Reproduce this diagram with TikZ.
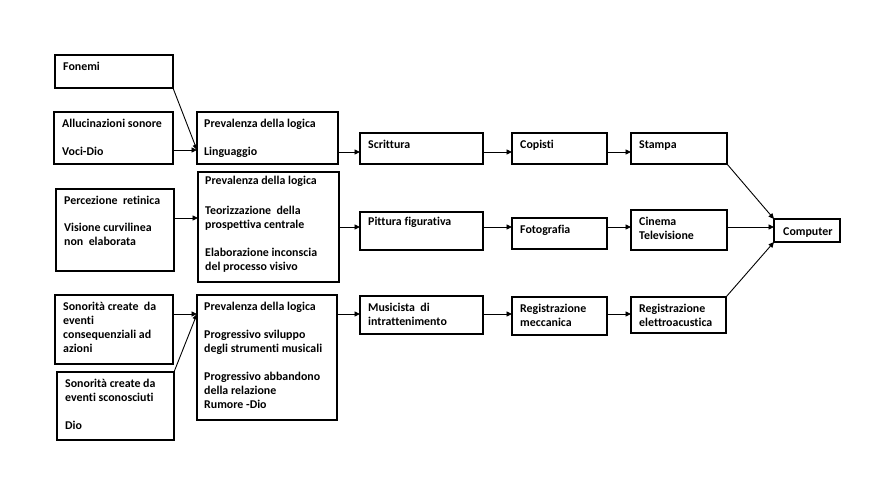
\documentclass[tikz,border=0pt]{standalone}
\usepackage{fontspec}
\setmainfont{Carlito}[Ligatures={NoCommon}]
\usetikzlibrary{arrows.meta,calc}
\tikzset{
  box/.style={draw=black, line width=1.1pt, rectangle, inner sep=0pt, outer sep=0pt},
  lbl/.style={anchor=north west, align=left, inner xsep=8pt, inner ysep=6.5pt,
    font=\fontsize{11.9}{14}\selectfont\bfseries, text=black},
  arr/.style={draw=black, line width=0.9pt, -{Triangle[length=5.5pt,width=5pt]}}
}
\newcommand\drawbox[7][]{%
  \pgfmathsetmacro\bw{#5-#3}\pgfmathsetmacro\bh{#6-#4}%
  \node[box, anchor=north west, minimum width=\bw pt, minimum height=\bh pt,
    label={[lbl,#1]north west:{\rule{0pt}{9pt}#7}}] (#2) at (#3,#4) {};}
\begin{document}
\begin{tikzpicture}[x=1pt,y=-1pt]
\useasboundingbox[fill=white] (0,0) rectangle (888,488);
% left column
\drawbox{fon}{55}{55}{173}{88}{Fonemi}
\drawbox{allu}{54}{112}{173}{164}{Allucinazioni sonore\\[14pt]Voci-Dio}
\drawbox{perc}{56}{189}{174}{271}{Percezione\ \ retinica\\[13pt]Visione curvilinea\\non\ \ elaborata}
\drawbox{son1}{55}{295}{173}{364}{Sonorità create\ \ da\\eventi\\consequenziali ad\\azioni}
\drawbox{son2}{57}{372}{174}{440}{Sonorità create da\\eventi sconosciuti\\[14pt]Dio}
% second column
\drawbox[inner xsep=7pt]{prev1}{197}{112}{338}{164}{Prevalenza della logica\\[14pt]Linguaggio}
\drawbox[inner xsep=7pt,inner ysep=3pt]{prev2}{198}{172}{339}{282}{Prevalenza della logica\\[16pt]Teorizzazione\ \ della\\prospettiva centrale\\[14pt]Elaborazione inconscia\\del processo visivo}
\drawbox[inner xsep=7pt]{prev3}{197}{295}{337}{420}{Prevalenza della logica\\[14pt]Progressivo sviluppo\\degli strumenti musicali\\[14pt]Progressivo abbandono\\della relazione\\Rumore -Dio}
% right columns
\drawbox{scr}{360}{133}{483}{164}{Scrittura}
\drawbox{cop}{512}{133}{607}{164}{Copisti}
\drawbox{sta}{631}{133}{727}{164}{Stampa}
\drawbox[inner ysep=4pt]{pit}{360}{212}{483}{250}{Pittura figurativa}
\drawbox{foto}{512}{218}{607}{249}{Fotografia}
\drawbox{cin}{631}{210}{727}{250}{Cinema\\Televisione}
\drawbox[inner xsep=9pt,inner ysep=7pt]{comp}{774}{219}{840}{242}{Computer}
\drawbox{mus}{360}{296}{483}{334}{Musicista\ \ di\\intrattenimento}
\drawbox{regm}{512}{297}{607}{335}{Registrazione\\meccanica}
\drawbox{rege}{631}{297}{726}{333}{Registrazione\\elettroacustica}
% connectors row 1
\coordinate (a1) at ([yshift=14pt]prev1.south west);
\draw[arr] (fon.south east) -- (a1);
\draw[arr] (allu.east |- a1) -- (a1);
\coordinate (r1) at ([yshift=12pt]scr.south west);
\draw[arr] (prev1.east |- r1) -- (r1);
\draw[arr] (scr.east |- r1) -- (cop.west |- r1);
\draw[arr] (cop.east |- r1) -- (sta.west |- r1);
\draw[arr] (sta.south east) -- (comp.north west);
% row 2
\coordinate (a2) at ([yshift=12pt]perc.east);
\draw[arr] (a2) -- (prev2.west |- a2);
\coordinate (r2) at ([yshift=3.5pt]comp.west);
\draw[arr] (prev2.east |- r2) -- (pit.west |- r2);
\draw[arr] (pit.east |- r2) -- (foto.west |- r2);
\draw[arr] (foto.east |- r2) -- (cin.west |- r2);
\draw[arr] (cin.east |- r2) -- (r2);
% row 3
\coordinate (a3) at ([yshift=15.5pt]son1.east);
\draw[arr] (a3) -- (prev3.west |- a3);
\draw[arr] (son2.north east) -- (prev3.west |- a3);
\draw[arr] (prev3.east |- a3) -- (mus.west |- a3);
\draw[arr] (mus.east |- a3) -- (regm.west |- a3);
\draw[arr] (regm.east |- a3) -- (rege.west |- a3);
\draw[arr] (rege.north east) -- (comp.south west);
\end{tikzpicture}
\end{document}
